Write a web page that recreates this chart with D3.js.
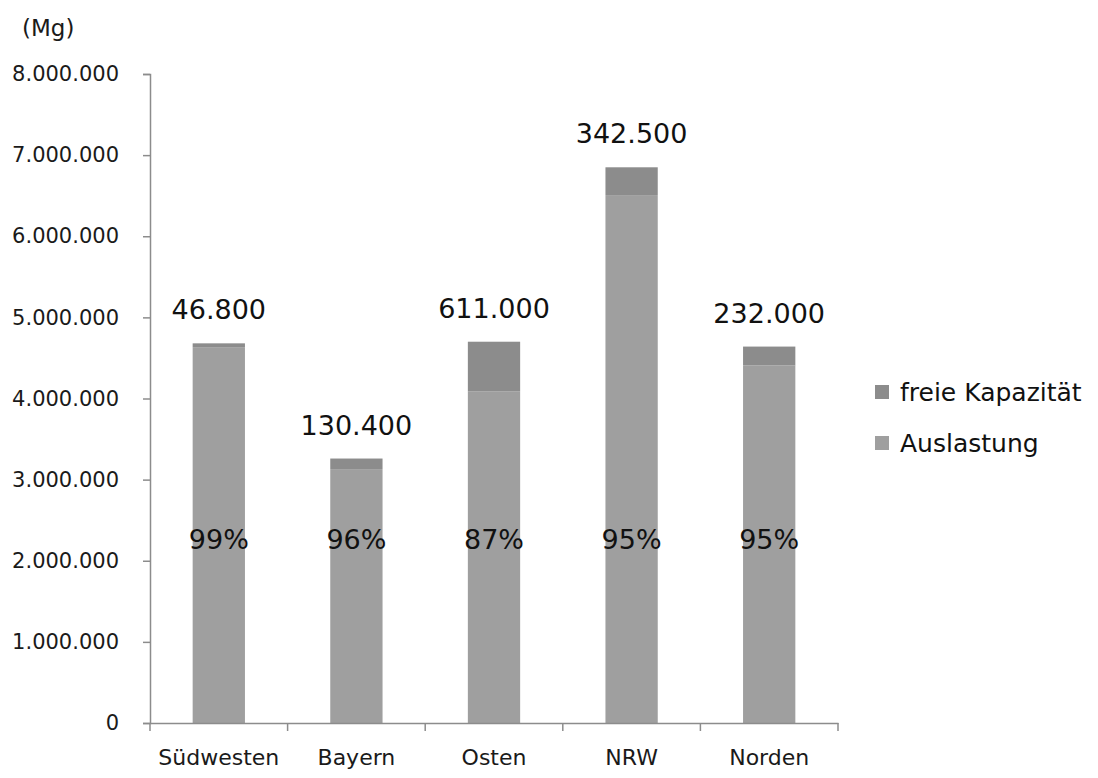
<!DOCTYPE html>
<html>
<head>
<meta charset="utf-8">
<script src="https://cdn.jsdelivr.net/npm/d3@7"></script>
<style>
  body { margin: 0; background: #ffffff; }
  text { font-family: "DejaVu Sans", sans-serif; }
</style>
</head>
<body>
<svg id="svg" width="1098" height="778"></svg>
<script>
//Data
const regions = ["Südwesten", "Bayern", "Osten", "NRW", "Norden"];
const auslastung = [4633200, 3129600, 4089000, 6507500, 4408000];
const freieKapazitaet = [46800, 130400, 611000, 342500, 232000];
const percentLabels = ["99%", "96%", "87%", "95%", "95%"];
const yTicks = [0, 1000000, 2000000, 3000000, 4000000, 5000000, 6000000, 7000000, 8000000];
const seriesNames = ["freie Kapazität", "Auslastung"];

//Colours
const COLOR_FREI = "#8c8c8c";
const COLOR_AUS = "#9f9f9f";
const AXIS_COLOR = "#8c8c8c";

const svg = d3.select("#svg");

//Scales
const x = d3.scaleBand()
  .domain(regions)
  .range([150, 838])
  .paddingInner(0.62)
  .paddingOuter(0.31);

const y = d3.scaleLinear()
  .domain([0, 8000000])
  .range([723, 74]);

const fmt = d3.formatLocale({ decimal: ",", thousands: ".", grouping: [3], currency: ["", "€"] }).format(",d");

//Stack
const rows = regions.map((r, i) => ({ region: r, aus: auslastung[i], frei: freieKapazitaet[i] }));
const stacked = d3.stack().keys(["aus", "frei"])(rows);
const colors = { aus: COLOR_AUS, frei: COLOR_FREI };

svg.append("g")
  .selectAll("g")
  .data(stacked)
  .enter().append("g")
  .attr("fill", (s) => colors[s.key])
  .selectAll("rect")
  .data((s) => s)
  .enter().append("rect")
  .attr("x", (d) => x(d.data.region))
  .attr("y", (d) => y(d[1]))
  .attr("width", x.bandwidth())
  .attr("height", (d) => y(d[0]) - y(d[1]));

//Y axis
const yAxis = svg.append("g")
  .attr("transform", "translate(150,0)")
  .call(d3.axisLeft(y).tickValues(yTicks).tickFormat(fmt).tickSize(7).tickPadding(24));
yAxis.select(".domain").attr("stroke", AXIS_COLOR).attr("stroke-width", 1.5);
yAxis.selectAll(".tick line").attr("stroke", AXIS_COLOR).attr("stroke-width", 1.5);
yAxis.selectAll(".tick text")
  .attr("fill", "#1a1a1a")
  .style("font-size", "21px")
  .style("font-family", "DejaVu Sans, sans-serif");

//X axis
const xAxis = svg.append("g")
  .attr("transform", "translate(0,723)")
  .call(d3.axisBottom(x).tickSize(0).tickPadding(26));
xAxis.select(".domain").attr("stroke", AXIS_COLOR).attr("stroke-width", 1.5);
xAxis.selectAll(".tick text")
  .attr("fill", "#1a1a1a")
  .style("font-size", "22px")
  .style("font-family", "DejaVu Sans, sans-serif");

//Category boundary ticks
const step = x.step();
const bounds = d3.range(regions.length + 1).map((i) => x.range()[0] + i * step);
svg.append("g")
  .selectAll("line")
  .data(bounds)
  .enter().append("line")
  .attr("x1", (d) => d)
  .attr("x2", (d) => d)
  .attr("y1", 723)
  .attr("y2", 731)
  .attr("stroke", AXIS_COLOR)
  .attr("stroke-width", 1.5);

//Free capacity labels above bars
svg.append("g")
  .selectAll("text")
  .data(rows)
  .enter().append("text")
  .attr("x", (d) => x(d.region) + x.bandwidth() / 2)
  .attr("y", (d) => y(d.aus + d.frei) - 24)
  .attr("text-anchor", "middle")
  .attr("fill", "#111")
  .style("font-size", "27px")
  .text((d) => fmt(d.frei));

//Percent labels
svg.append("g")
  .selectAll("text")
  .data(percentLabels)
  .enter().append("text")
  .attr("x", (d, i) => x(regions[i]) + x.bandwidth() / 2)
  .attr("y", y(2260000))
  .attr("dy", "0.36em")
  .attr("text-anchor", "middle")
  .attr("fill", "#111")
  .style("font-size", "27px")
  .style("font-weight", "500")
  .text((d) => d);

//Unit label
svg.append("text")
  .attr("x", 22)
  .attr("y", 36)
  .attr("fill", "#1a1a1a")
  .style("font-size", "23px")
  .text("(Mg)");

//Legend
const legend = svg.append("g")
  .selectAll("g")
  .data(seriesNames)
  .enter().append("g")
  .attr("transform", (d, i) => "translate(875," + (392 + i * 51) + ")");
legend.append("rect")
  .attr("x", 0)
  .attr("y", -7)
  .attr("width", 14)
  .attr("height", 14)
  .attr("fill", (d) => d === "Auslastung" ? COLOR_AUS : COLOR_FREI);
legend.append("text")
  .attr("x", 25)
  .attr("dy", "0.36em")
  .attr("fill", "#111")
  .style("font-size", "25px")
  .text((d) => d);
</script>
</body>
</html>
